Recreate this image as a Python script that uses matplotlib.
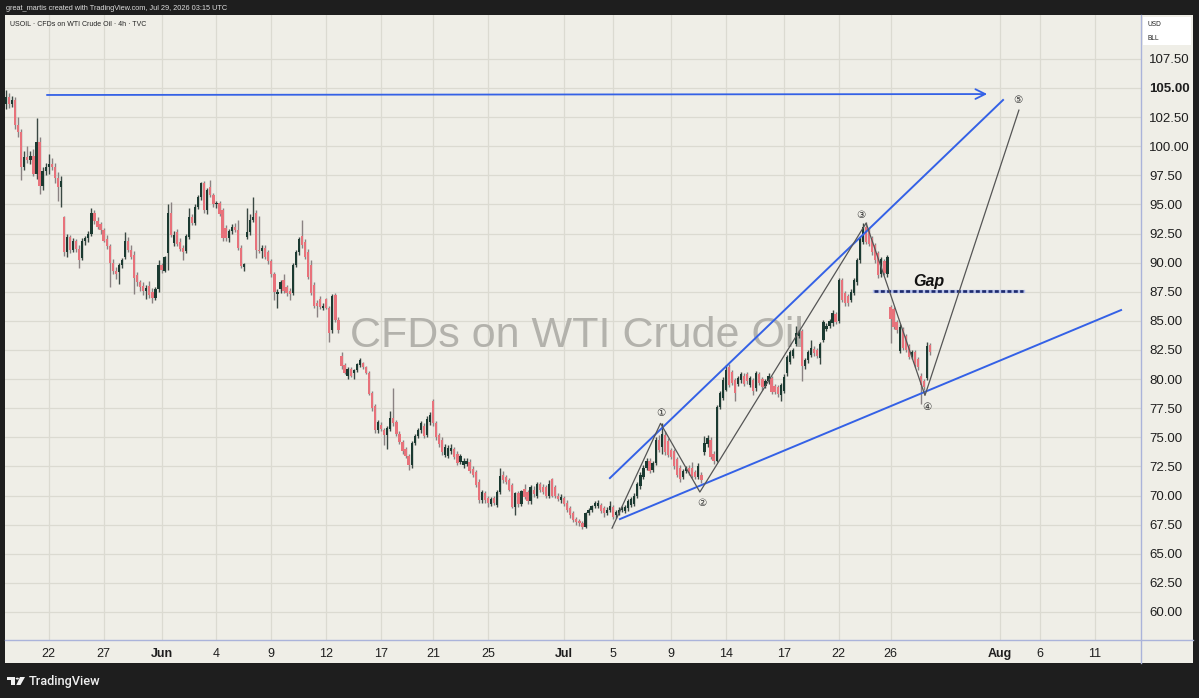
import numpy as np
import matplotlib
matplotlib.use("Agg")
import matplotlib.pyplot as plt
from matplotlib.patches import Rectangle, Polygon, Circle
from matplotlib.lines import Line2D

# ---------------- data (4h candles, USOIL) ----------------
opens = [
    103.6, 104.2, 103.6, 104.0, 101.8, 101.2, 98.2, 99.1, 98.8, 99.2,
    97.6, 100.4, 96.6, 97.9, 98.2, 98.5, 98.2, 97.3, 96.5, 93.9,
    90.9, 92.2, 91.1, 91.9, 91.2, 90.4, 91.9, 92.1, 92.5, 94.3,
    93.6, 93.3, 92.8, 92.0, 91.4, 90.0, 89.3, 89.2, 89.8, 90.5,
    91.9, 91.1, 90.7, 88.9, 88.3, 88.0, 87.6, 88.0, 87.5, 87.0,
    87.7, 89.8, 89.3, 90.8, 94.3, 91.7, 92.6, 91.8, 91.3, 91.0,
    92.2, 93.9, 93.4, 94.8, 95.6, 96.8, 94.5, 96.5, 95.8, 95.0,
    95.1, 94.5, 93.0, 92.1, 92.7, 93.1, 92.8, 91.3, 89.6, 92.2,
    92.6, 93.7, 94.3, 91.1, 91.0, 91.3, 90.9, 90.1, 89.0, 87.3,
    87.7, 88.5, 87.9, 87.6, 87.4, 89.8, 90.9, 92.3, 91.8, 90.9,
    89.8, 88.1, 86.5, 86.9, 86.1, 86.9, 86.1, 84.2, 87.2, 85.1,
    82.0, 81.2, 80.3, 80.9, 80.5, 80.8, 81.2, 81.4, 81.0, 80.5,
    78.8, 77.7, 75.6, 76.1, 75.6, 75.2, 75.7, 76.7, 76.3, 75.3,
    74.6, 74.0, 73.4, 72.6, 74.5, 75.1, 75.6, 76.0, 75.2, 76.3,
    78.1, 76.2, 75.2, 74.8, 73.5, 73.4, 73.8, 74.0, 73.6, 72.9,
    72.6, 72.7, 72.9, 72.3, 72.0, 71.2, 69.6, 70.2, 69.8, 69.3,
    69.8, 69.2, 70.3, 71.8, 71.6, 71.3, 70.9, 69.0, 70.2, 69.3,
    70.6, 70.3, 69.5, 70.5, 70.0, 71.0, 70.7, 70.7, 70.0, 71.4,
    70.7, 70.0, 69.6, 69.8, 69.4, 68.9, 68.5, 68.0, 67.8, 67.6,
    67.3, 68.5, 68.8, 69.1, 69.1, 69.2, 68.9, 68.5, 68.8, 69.0,
    68.3, 68.5, 68.8, 68.7, 68.9, 69.2, 69.3, 70.0, 70.8, 71.6,
    72.4, 73.0, 72.2, 72.8, 74.8, 74.2, 75.2, 74.7, 73.9, 73.8,
    73.1, 72.4, 71.6, 72.1, 72.4, 72.4, 72.0, 71.6, 71.8, 73.7,
    74.4, 74.8, 73.6, 73.0, 77.6, 78.4, 79.1, 81.0, 80.6, 79.9,
    79.6, 79.9, 80.3, 80.4, 79.5, 79.9, 79.2, 80.4, 80.0, 79.4,
    79.8, 80.1, 79.4, 79.3, 78.6, 79.0, 80.5, 81.5, 82.0, 83.0,
    83.7, 84.1, 81.1, 81.6, 82.1, 82.6, 82.5, 81.8, 83.4, 84.3,
    84.6, 84.8, 85.6, 85.0, 88.5, 87.4, 87.1, 86.8, 87.4, 88.3,
    90.2, 91.8, 93.1, 92.8, 92.1, 91.5, 90.8, 89.0, 90.1, 89.0,
    86.2, 86.0, 84.9, 82.4, 84.3, 83.7, 82.8, 81.9, 82.3, 81.7,
    80.3, 79.8, 80.1, 82.9,
]
highs = [
    104.8, 104.6, 104.3, 104.2, 102.5, 101.5, 99.6, 100.0, 99.6, 99.8,
    102.4, 100.8, 98.2, 98.6, 99.3, 99.0, 98.6, 97.8, 97.4, 94.0,
    92.5, 92.4, 92.1, 92.0, 91.5, 92.1, 92.3, 92.7, 94.7, 94.5,
    93.9, 93.5, 93.0, 92.4, 91.6, 90.3, 89.6, 90.0, 90.4, 92.6,
    92.2, 91.5, 91.0, 89.2, 88.5, 88.3, 88.1, 88.4, 87.8, 87.9,
    90.2, 90.0, 90.6, 95.0, 95.2, 92.7, 92.9, 92.1, 91.5, 92.5,
    94.7, 94.2, 95.0, 95.8, 96.9, 97.0, 96.4, 97.1, 96.0, 95.3,
    95.3, 94.7, 93.2, 92.9, 93.3, 93.4, 93.7, 91.5, 90.0, 94.7,
    94.2, 95.6, 94.5, 94.0, 91.5, 91.5, 91.1, 90.3, 89.2, 87.7,
    88.5, 89.0, 88.1, 87.8, 90.0, 91.1, 92.2, 93.7, 92.0, 91.2,
    90.2, 88.3, 86.8, 87.1, 86.5, 87.0, 86.3, 87.3, 87.4, 85.3,
    82.3, 81.4, 81.0, 81.0, 80.9, 81.4, 81.8, 81.5, 81.1, 80.7,
    79.0, 77.9, 76.5, 76.3, 75.8, 76.0, 77.3, 79.2, 76.5, 75.5,
    74.8, 74.2, 73.6, 74.7, 75.3, 75.8, 76.4, 76.2, 76.8, 77.2,
    78.3, 76.4, 75.4, 75.0, 74.4, 74.3, 74.4, 74.2, 73.8, 73.6,
    73.2, 73.2, 73.1, 72.5, 72.2, 71.4, 70.5, 70.4, 70.0, 69.9,
    70.0, 70.5, 72.4, 72.1, 71.8, 71.5, 71.1, 70.3, 70.4, 70.5,
    71.0, 70.5, 70.9, 70.8, 71.2, 71.2, 71.0, 70.9, 71.3, 71.5,
    70.9, 70.2, 70.1, 70.0, 69.6, 69.1, 68.7, 68.2, 68.0, 67.8,
    68.6, 68.9, 69.2, 69.5, 69.6, 69.4, 69.1, 69.0, 69.5, 69.2,
    68.8, 69.0, 69.1, 69.2, 69.7, 69.9, 70.2, 71.2, 72.0, 72.6,
    73.2, 73.2, 73.0, 75.0, 75.2, 76.2, 75.5, 74.9, 74.1, 74.0,
    73.3, 72.6, 72.3, 72.5, 72.6, 72.9, 72.2, 72.8, 72.0, 75.1,
    75.2, 75.0, 73.8, 77.8, 79.0, 80.2, 81.2, 81.3, 80.8, 80.1,
    80.3, 80.6, 80.5, 80.6, 80.3, 80.1, 80.7, 80.6, 80.2, 80.0,
    80.5, 80.3, 79.6, 79.5, 79.7, 80.4, 82.1, 82.5, 82.7, 84.6,
    84.2, 84.3, 81.8, 82.5, 83.4, 82.8, 82.7, 83.2, 85.1, 84.8,
    85.2, 85.9, 85.8, 88.7, 88.7, 87.6, 87.3, 87.7, 88.7, 90.4,
    92.2, 93.4, 93.5, 93.0, 92.3, 91.7, 91.0, 90.5, 90.3, 90.7,
    86.4, 86.2, 85.1, 84.7, 84.5, 83.9, 83.0, 82.5, 82.5, 81.9,
    80.5, 80.0, 83.2, 83.1,
]
lows = [
    103.2, 103.3, 103.4, 101.5, 100.8, 97.1, 98.0, 98.6, 98.5, 97.4,
    97.2, 95.9, 96.2, 97.5, 97.6, 98.0, 96.8, 95.3, 94.8, 90.6,
    90.5, 90.8, 90.9, 90.9, 89.5, 90.2, 91.5, 91.8, 92.3, 93.3,
    92.9, 92.5, 91.8, 91.2, 87.9, 89.0, 88.6, 88.2, 89.5, 90.3,
    90.9, 90.3, 87.3, 88.0, 87.6, 87.2, 86.9, 87.0, 86.5, 86.8,
    87.5, 89.1, 89.2, 89.4, 92.2, 91.4, 91.4, 91.0, 90.2, 90.8,
    92.0, 93.2, 93.2, 94.6, 95.4, 94.3, 94.2, 95.6, 94.8, 94.7,
    94.0, 91.9, 91.9, 91.8, 92.5, 92.6, 91.1, 89.5, 89.3, 92.0,
    92.4, 93.5, 90.4, 90.8, 90.4, 90.3, 89.9, 88.8, 86.8, 86.1,
    87.4, 87.4, 87.1, 86.8, 87.2, 89.6, 90.7, 91.3, 90.3, 88.6,
    87.2, 86.1, 85.3, 86.0, 85.9, 86.0, 83.2, 84.0, 84.9, 84.0,
    80.9, 80.4, 80.0, 80.2, 80.0, 80.6, 81.0, 80.9, 80.4, 78.6,
    77.3, 75.4, 75.4, 75.5, 74.3, 74.0, 75.5, 76.0, 75.1, 74.4,
    73.6, 73.2, 72.2, 72.4, 74.3, 74.9, 75.4, 74.9, 75.0, 76.1,
    76.0, 74.8, 74.2, 73.5, 73.3, 73.2, 73.6, 73.1, 72.6, 72.7,
    72.4, 72.5, 71.9, 71.6, 70.7, 69.4, 69.4, 69.4, 69.0, 69.1,
    69.2, 69.0, 70.1, 71.1, 71.0, 70.4, 68.9, 68.3, 69.0, 69.1,
    69.7, 69.3, 69.3, 69.9, 69.8, 70.3, 70.1, 69.8, 69.8, 69.9,
    69.8, 69.5, 69.4, 69.1, 68.6, 68.1, 67.7, 67.5, 67.4, 67.1,
    67.2, 68.3, 68.6, 68.9, 68.9, 68.5, 68.2, 68.3, 68.6, 68.0,
    68.1, 68.3, 68.6, 68.5, 68.7, 69.0, 69.1, 69.8, 70.6, 71.4,
    72.2, 71.9, 72.0, 72.6, 73.7, 73.6, 73.5, 73.3, 73.1, 72.3,
    71.6, 71.2, 71.4, 71.9, 71.8, 71.5, 71.4, 71.4, 71.1, 73.5,
    74.2, 73.1, 72.7, 72.9, 77.4, 78.2, 79.0, 79.3, 79.5, 78.1,
    79.4, 79.7, 79.4, 79.6, 79.3, 78.6, 79.0, 79.5, 79.1, 79.2,
    79.6, 78.7, 78.7, 78.5, 78.1, 78.8, 80.3, 81.3, 81.8, 82.8,
    83.5, 79.8, 80.9, 81.4, 81.9, 82.0, 81.8, 81.3, 83.2, 84.1,
    84.4, 84.6, 84.7, 84.8, 86.6, 86.3, 86.3, 86.6, 87.2, 88.1,
    90.0, 91.6, 91.6, 91.4, 90.7, 90.0, 88.7, 88.8, 88.9, 88.8,
    83.1, 84.3, 84.0, 82.2, 82.5, 82.3, 81.7, 81.7, 81.0, 80.8,
    77.9, 79.1, 79.9, 82.1,
]
closes = [
    104.2, 103.6, 104.0, 101.8, 101.2, 98.2, 99.1, 98.8, 99.2, 97.6,
    100.4, 96.6, 97.9, 98.2, 98.5, 98.2, 97.3, 96.5, 97.0, 90.9,
    92.2, 91.1, 91.9, 91.2, 90.2, 91.9, 92.1, 92.5, 94.3, 93.6,
    93.1, 92.8, 91.9, 91.4, 90.0, 89.3, 89.0, 89.8, 90.2, 91.9,
    91.1, 90.5, 88.7, 88.3, 87.9, 87.6, 87.8, 87.2, 87.0, 87.7,
    89.8, 89.4, 90.5, 94.3, 92.4, 92.4, 91.6, 91.2, 90.9, 92.3,
    93.9, 93.4, 94.8, 95.6, 96.8, 94.5, 96.2, 95.8, 95.0, 95.1,
    94.2, 92.1, 92.1, 92.7, 93.1, 92.8, 91.3, 89.7, 89.9, 92.6,
    93.7, 93.9, 91.1, 91.0, 91.3, 90.5, 90.1, 89.0, 87.5, 87.5,
    88.3, 87.6, 87.4, 87.3, 89.8, 90.9, 92.0, 91.5, 90.5, 88.8,
    87.4, 86.3, 86.3, 86.2, 86.3, 86.1, 84.0, 87.1, 85.1, 84.2,
    81.1, 80.5, 80.9, 80.3, 80.8, 81.3, 81.6, 81.0, 80.5, 78.7,
    77.5, 75.6, 76.3, 75.7, 75.2, 75.8, 76.7, 76.2, 75.3, 74.6,
    73.8, 73.4, 72.6, 74.5, 75.1, 75.6, 76.2, 75.1, 76.6, 76.9,
    76.2, 75.0, 74.4, 73.7, 74.2, 74.1, 74.1, 73.3, 72.8, 73.4,
    73.0, 73.0, 72.1, 71.8, 70.9, 69.6, 70.3, 69.6, 69.4, 69.7,
    69.4, 70.3, 71.7, 71.3, 71.2, 70.5, 69.0, 70.2, 69.3, 70.4,
    69.9, 69.5, 70.7, 70.1, 71.0, 70.5, 70.3, 70.0, 71.0, 70.0,
    70.0, 69.7, 69.9, 69.3, 68.8, 68.3, 67.9, 67.7, 67.6, 67.3,
    68.5, 68.8, 69.1, 69.4, 69.4, 68.7, 68.5, 68.8, 69.1, 68.2,
    68.6, 68.8, 68.9, 69.0, 69.5, 69.7, 70.0, 71.0, 71.8, 72.4,
    73.0, 72.1, 72.8, 74.8, 73.9, 75.3, 73.7, 73.5, 73.3, 72.5,
    71.8, 71.4, 72.1, 72.4, 72.0, 71.7, 71.6, 72.5, 71.3, 74.5,
    74.9, 73.3, 73.0, 77.6, 78.8, 79.9, 80.8, 79.5, 79.7, 78.8,
    80.1, 80.4, 79.6, 79.8, 80.1, 79.0, 80.5, 79.7, 79.3, 79.8,
    80.3, 78.9, 78.9, 78.7, 79.5, 80.2, 81.9, 82.3, 82.5, 84.0,
    84.0, 81.1, 81.6, 82.3, 82.7, 82.2, 82.0, 83.0, 84.9, 84.6,
    85.0, 85.7, 84.9, 88.5, 86.8, 86.5, 86.5, 87.5, 88.5, 90.2,
    92.0, 93.1, 91.8, 91.6, 90.9, 90.2, 88.9, 90.3, 89.1, 90.5,
    85.2, 84.5, 84.2, 84.5, 82.7, 82.5, 81.9, 82.3, 81.2, 81.0,
    79.5, 79.3, 82.8, 82.3,
]
assert len(opens) == len(highs) == len(lows) == len(closes)

price_ticks = [60.0, 62.5, 65.0, 67.5, 70.0, 72.5, 75.0, 77.5, 80.0, 82.5,
               85.0, 87.5, 90.0, 92.5, 95.0, 97.5, 100.0, 102.5, 105.0, 107.5]
date_labels = ["22", "27", "Jun", "4", "9", "12", "17", "21", "25", "Jul",
               "5", "9", "14", "17", "22", "26", "Aug", "6", "11"]
date_bars = [14, 32, 51, 69, 87, 105, 123, 140, 158, 183,
             199, 218, 236, 255, 273, 290, 326, 339, 357]
month_labels = ["Jun", "Jul", "Aug"]

# drawings (bar index, price)
wave_bars = [198.7, 214.6, 227.5, 282.0, 301.3, 332.1]
wave_prices = [67.2, 76.2, 70.3, 93.4, 78.6, 103.1]
wave_names = ["①", "②", "③", "④", "⑤"]
wave_label_bars = [214.8, 228.2, 280.3, 302.0, 331.8]
wave_label_prices = [77.1, 69.4, 94.1, 77.6, 104.0]
upper_channel_bars = [198.0, 326.9]
upper_channel_prices = [71.5, 103.97]
lower_channel_bars = [201.3, 365.6]
lower_channel_prices = [67.98, 85.93]
target_bars = [12.5, 322.6]
target_prices = [104.40, 104.48]
gap_bars = [284.6, 333.4]
gap_price = 87.57

# ---------------- figure ----------------
W, H = 1199, 698
fig = plt.figure(figsize=(W / 100, H / 100), dpi=100)
fig.patch.set_facecolor("#1e1e1e")
BG = "#efeee7"
FONT = "Liberation Sans"

fig.patches.append(Rectangle((5 / W, 1 - 663 / H), (1193 - 5) / W, (663 - 15) / H,
                             transform=fig.transFigure, facecolor=BG,
                             edgecolor="none", zorder=-5))

ax = fig.add_axes([5 / W, 1 - 640 / H, (1141 - 5) / W, (640 - 15) / H])
ax.set_zorder(1)
ax.set_facecolor(BG)
ax.set_xlim((5 - 6) / 3.05, (1141 - 6) / 3.05)
ax.set_ylim(57.594, 111.269)
for s in ax.spines.values():
    s.set_visible(False)

ax.set_yticks(price_ticks)
ax.set_xticks(date_bars)
ax.grid(True, color="#dbdad1", lw=0.9, zorder=0)
ax.set_axisbelow(True)
ax.yaxis.tick_right()
ax.set_yticklabels([f"{v:.2f}" for v in price_ticks], fontfamily=FONT)
ax.set_xticklabels(date_labels, fontfamily=FONT)
ax.tick_params(axis="y", length=0, pad=6, labelsize=9.5, labelcolor="#1e1e1e")
ax.tick_params(axis="x", length=0, pad=6, labelsize=9, labelcolor="#1e1e1e")
for lbl in ax.get_yticklabels():
    if lbl.get_text() == "105.00":
        lbl.set_fontweight("bold")
for lbl in ax.get_xticklabels():
    if lbl.get_text() in month_labels:
        lbl.set_fontweight("bold")

# candles
o = np.array(opens); h = np.array(highs); l = np.array(lows); c = np.array(closes)
x = np.arange(len(o))
up = c >= o
UP, DN = "#1b3a31", "#e8727b"
ax.vlines(x, l, h, colors=np.where(up, "#3a4843", "#8a8282"), lw=1.0, zorder=3)
ax.bar(x, np.maximum(np.abs(c - o), 0.08), bottom=np.minimum(o, c), width=0.74,
       color=np.where(up, UP, DN), lw=0, zorder=4)

# watermark
ax.text((577 - 5) / 1136, 1 - (336 - 15) / 625, "CFDs on WTI Crude Oil",
        transform=ax.transAxes, ha="center", va="center", fontsize=31,
        color="#b3b2ac", fontfamily=FONT, zorder=1)
# legend
ax.text((10 - 5) / 1136, 1 - (25 - 15) / 625, "USOIL · CFDs on WTI Crude Oil · 4h · TVC",
        transform=ax.transAxes, ha="left", va="center", fontsize=5.0,
        color="#222222", fontfamily=FONT, zorder=6)

# drawings
BLUE = "#3461e6"
ax.plot(upper_channel_bars, upper_channel_prices, color=BLUE, lw=1.4, zorder=5)
ax.plot(lower_channel_bars, lower_channel_prices, color=BLUE, lw=1.4, zorder=5)
ax.annotate("", xy=(target_bars[1], target_prices[1]), xytext=(target_bars[0], target_prices[0]),
            arrowprops=dict(arrowstyle="->,head_length=0.7,head_width=0.35", color=BLUE, lw=1.3),
            zorder=5)
ax.plot(gap_bars, [gap_price, gap_price], color="#b7c2ea", lw=2.4, zorder=5)
ax.plot(gap_bars, [gap_price, gap_price], color="#1d2a6e", lw=1.9,
        ls=(0, (1.5, 0.9)), zorder=5)
ax.plot(wave_bars, wave_prices, color="#555555", lw=0.9, zorder=5)
for name, bx, py in zip(wave_names, wave_label_bars, wave_label_prices):
    ax.text(bx, py, name, ha="center", va="center", fontsize=7.5, color="#333333",
            family=["DejaVu Sans", "Noto Sans CJK SC"], zorder=6)
ax.text((929 - 6) / 3.05, 88.4, "Gap", ha="center", va="center", fontsize=11.5,
        fontweight="bold", fontstyle="italic", color="#111111", fontfamily=FONT, zorder=6)

# axis separators
fig.add_artist(Line2D([5 / W, 1193 / W], [1 - 640 / H, 1 - 640 / H], color="#aab3da", lw=1.0, zorder=3))
fig.add_artist(Line2D([1141 / W, 1141 / W], [1 - 15 / H, 1 - 663 / H], color="#aab3da", lw=1.0, zorder=3))

# currency box
fig.patches.append(Rectangle((1143 / W, 1 - 45 / H), 48 / W, 28 / H, transform=fig.transFigure,
                             facecolor="white", edgecolor="none", zorder=2))
fig.text(1148 / W, 1 - 25 / H, "USD", fontsize=4.8, color="#222222", va="center", fontfamily=FONT)
fig.text(1148 / W, 1 - 39 / H, "BLL", fontsize=4.8, color="#222222", va="center", fontfamily=FONT)

# header / footer
fig.text(6 / W, 1 - 9 / H, "great_martis created with TradingView.com, Jul 29, 2026 03:15 UTC",
         fontsize=5.3, color="#dddddd", va="center", fontfamily=FONT)
# TradingView logo
LOGO = "#f0f0f0"
fig.patches.append(Rectangle((7 / W, 1 - 680 / H), 8 / W, 3.2 / H, transform=fig.transFigure,
                             facecolor=LOGO, edgecolor="none"))
fig.patches.append(Rectangle((11 / W, 1 - 685 / H), 4 / W, 8 / H, transform=fig.transFigure,
                             facecolor=LOGO, edgecolor="none"))
fig.patches.append(Circle((17.3 / W, 1 - 678.6 / H), 1.6 / W, transform=fig.transFigure,
                          facecolor=LOGO, edgecolor="none"))
fig.patches.append(Polygon([[20 / W, 1 - 677 / H], [25 / W, 1 - 677 / H], [20.5 / W, 1 - 685 / H],
                            [16.3 / W, 1 - 685 / H]], closed=True, transform=fig.transFigure,
                           facecolor=LOGO, edgecolor="none"))
fig.text(29 / W, 1 - 681 / H, "TradingView", fontsize=9.2, fontweight="medium",
         color=LOGO, va="center", fontfamily="Roboto")

fig.savefig("out.png", dpi=100, facecolor=fig.get_facecolor())
